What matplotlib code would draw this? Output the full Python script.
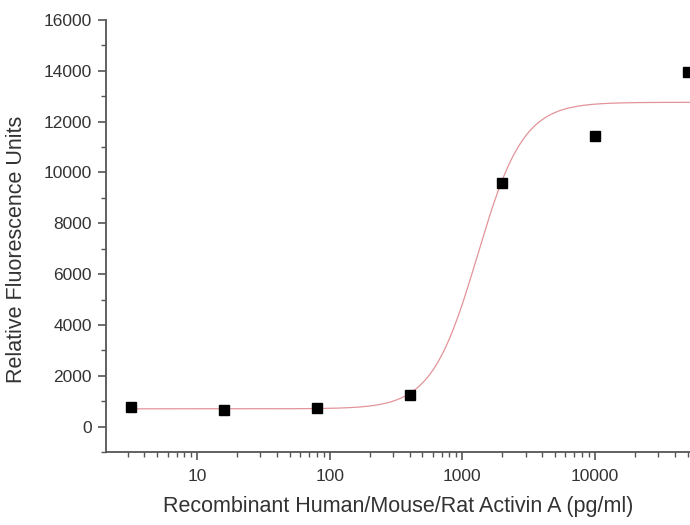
import numpy as np
import matplotlib.pyplot as plt
from matplotlib.ticker import LogLocator, FixedLocator, MultipleLocator, NullFormatter

plt.rcParams['font.family'] = ['Liberation Sans', 'DejaVu Sans']

# measured points (pg/ml vs RFU)
conc = [3.2, 16, 80, 400, 2000, 10000, 50000]
rfu = [760, 660, 740, 1260, 9600, 11420, 13940]

# 4-parameter logistic fit
fit_bottom = 700
fit_top = 12760
fit_ec50 = 1300
fit_hill = 2.5


def four_pl(x, bottom, top, ec50, hill):
    return bottom + (top - bottom) / (1 + (ec50 / x) ** hill)


fig = plt.figure(figsize=(6.9, 5.25), dpi=100)
ax = fig.add_axes([0.1536, 0.139, 0.8464, 0.823])

xfit = np.logspace(np.log10(3.2), np.log10(52000), 400)
ax.plot(xfit, four_pl(xfit, fit_bottom, fit_top, fit_ec50, fit_hill),
        color='#e3949a', lw=0.9, zorder=2)
ax.plot(conc, rfu, 's', color='black', ms=7, zorder=3, clip_on=False)

ax.set_xscale('log')
ax.set_xlim(10 ** 0.313, 10 ** 4.717)
ax.set_ylim(-1000, 16000)

ax.xaxis.set_major_locator(FixedLocator([10, 100, 1000, 10000]))
ax.set_xticklabels(['10', '100', '1000', '10000'])
ax.xaxis.set_minor_locator(LogLocator(base=10, subs=np.arange(2, 10), numticks=20))
ax.xaxis.set_minor_formatter(NullFormatter())
ax.yaxis.set_major_locator(FixedLocator(np.arange(0, 16001, 2000)))
ax.yaxis.set_minor_locator(MultipleLocator(1000))

for side in ['top', 'right']:
    ax.spines[side].set_visible(False)
for side in ['left', 'bottom']:
    ax.spines[side].set_color('#555555')
    ax.spines[side].set_linewidth(1.3)

ax.tick_params(which='major', direction='out', length=6, width=1.2,
               color='#555555', labelsize=12.5, labelcolor='#333333', pad=4)
ax.tick_params(axis='x', which='major', pad=6)
ax.tick_params(which='minor', direction='out', length=3.5, width=1.0,
               color='#555555')

ax.set_xlabel('Recombinant Human/Mouse/Rat Activin A (pg/ml)',
              fontsize=15.5, color='#333333', labelpad=9)
ax.set_ylabel('Relative Fluorescence Units', fontsize=15.5, color='#333333')
ax.yaxis.set_label_coords(-0.135, 0.468)

fig.savefig('out.png', dpi=100)
